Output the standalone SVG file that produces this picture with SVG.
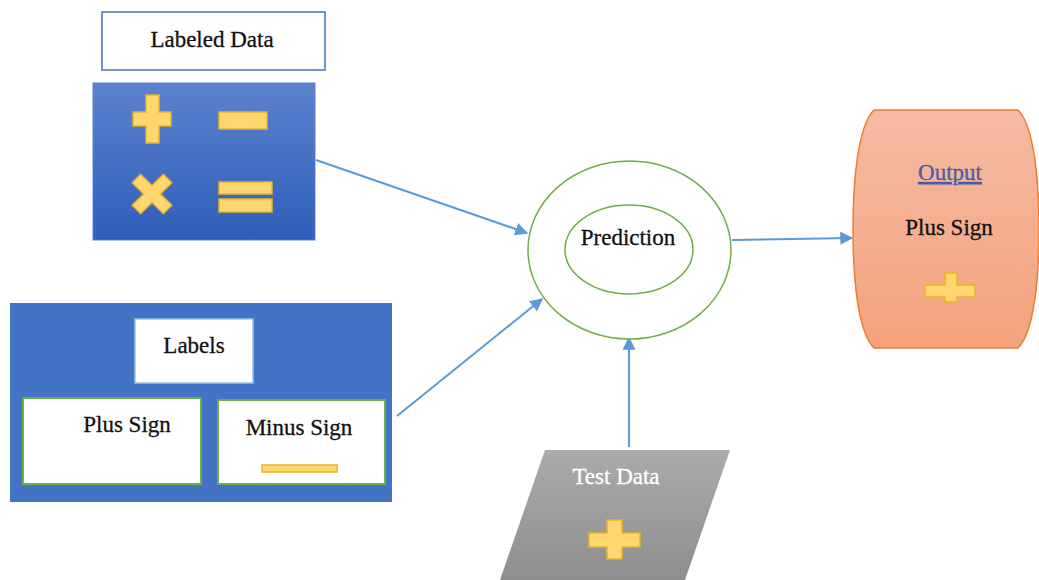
<svg xmlns="http://www.w3.org/2000/svg" width="1039" height="580" viewBox="0 0 1039 580">
<defs>
<linearGradient id="gBlue" x1="0" y1="0" x2="0" y2="1"><stop offset="0" stop-color="#5B82CE"/><stop offset="1" stop-color="#2F5EB9"/></linearGradient>
<linearGradient id="gOrange" x1="0" y1="0" x2="0" y2="1"><stop offset="0" stop-color="#F5BBA2"/><stop offset="1" stop-color="#F4A27D"/></linearGradient>
<linearGradient id="gGray" x1="0" y1="0" x2="0" y2="1"><stop offset="0" stop-color="#ABABAB"/><stop offset="1" stop-color="#8E8E8E"/></linearGradient>
<marker id="arr" viewBox="0 0 10 10" refX="9" refY="5" markerWidth="13" markerHeight="13" markerUnits="userSpaceOnUse" orient="auto"><path d="M0,0 L10,5 L0,10 Z" fill="#5B9BD5"/></marker>
<style>
.t{font-family:"Liberation Serif","DejaVu Serif",serif;font-size:23px;fill:#111;stroke:#111;stroke-width:0.3;text-anchor:middle}
.sym{fill:#FFD76E;stroke:#E8B52A;stroke-width:1.5}
.conn{stroke:#5B9BD5;stroke-width:2;fill:none;marker-end:url(#arr)}
.wbox{fill:#fff;stroke:#70AD47;stroke-width:2}
</style>
</defs>
<rect width="1039" height="580" fill="#fff"/>
<g id="connectors">
<line class="conn" x1="316" y1="160" x2="527" y2="233"/>
<line class="conn" x1="397" y1="416" x2="542" y2="299"/>
<line class="conn" x1="629" y1="447" x2="629" y2="338"/>
<line class="conn" x1="732" y1="240" x2="852" y2="238"/>
</g>
<g id="labeled-data-title">
<rect x="102" y="12" width="223" height="58" fill="#fff" stroke="#4472C4" stroke-width="1.5"/>
<text class="t" x="212" y="47">Labeled Data</text>
</g>
<g id="labeled-data">
<rect x="93" y="83" width="222" height="157" fill="url(#gBlue)" stroke="#5A84CE" stroke-width="1"/>
<path class="sym" d="M146,95 H159 V112 H171 V126 H159 V143 H146 V126 H133 V112 H146 Z"/>
<rect class="sym" x="219" y="112" width="48" height="17"/>
<g transform="translate(152,194) rotate(45)"><path class="sym" d="M-6,-22 H6 V-6 H22 V6 H6 V22 H-6 V6 H-22 V-6 H-6 Z"/></g>
<rect class="sym" x="219" y="182" width="53" height="12"/>
<rect class="sym" x="219" y="199" width="53" height="13"/>
</g>
<g id="labels">
<rect x="10" y="303" width="382" height="199" fill="#4472C4"/>
<rect x="135" y="319" width="118" height="64" fill="#fff" stroke="#9DC3E6" stroke-width="1.5"/>
<text class="t" x="194" y="353">Labels</text>
</g>
<g id="plus-sign-label">
<rect class="wbox" x="23" y="398" width="178" height="86"/>
<text class="t" x="127" y="432">Plus Sign</text>
</g>
<g id="minus-sign-label">
<rect class="wbox" x="218" y="400" width="167" height="84"/>
<text class="t" x="299" y="435">Minus Sign</text>
<rect class="sym" x="262" y="465" width="75" height="7" stroke-width="1"/>
</g>
<g id="prediction">
<ellipse cx="629.5" cy="250" rx="101.5" ry="89" fill="#fff" stroke="#70AD47" stroke-width="1.5"/>
<ellipse cx="629" cy="249.5" rx="64" ry="44.5" fill="#fff" stroke="#70AD47" stroke-width="1.5"/>
<text class="t" x="628" y="245">Prediction</text>
</g>
<g id="output">
<path d="M874,110 H1018 C1034,126 1039,180 1039,229 C1039,280 1034,332 1018,348 H874 C858,332 853,280 853,229 C853,180 858,126 874,110 Z" fill="url(#gOrange)" stroke="#ED7D31" stroke-width="1.5"/>
<text class="t" x="950" y="180" style="fill:#4A5BA6;stroke:#4A5BA6;text-decoration:underline">Output</text>
<text class="t" x="949" y="235">Plus Sign</text>
<path class="sym" d="M945,273 H957 V285 H975 V297 H957 V302 H945 V297 H925 V285 H945 Z"/>
</g>
<g id="test-data">
<path d="M545,450 H730 L685,580 H500 Z" fill="url(#gGray)"/>
<text class="t" x="616" y="484" style="fill:#fff;stroke:#fff">Test Data</text>
<path class="sym" d="M607,520 H622 V533 H640 V547 H622 V559 H607 V547 H589 V533 H607 Z"/>
</g>
</svg>
